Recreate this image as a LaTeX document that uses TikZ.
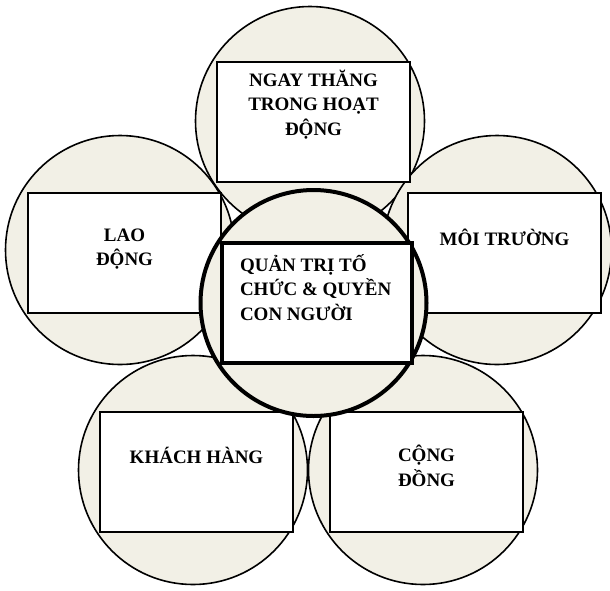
\documentclass[tikz,border=0pt]{standalone}
\usepackage{fontspec}
\setmainfont{Liberation Serif}
\usetikzlibrary{positioning}

\definecolor{petalfill}{HTML}{F2F0E6}
\newcommand{\cardtext}[2]{\parbox[t][120pt][t]{193pt}{\centering\rule{0pt}{#1}#2}}

\begin{document}
\begin{tikzpicture}[
    x=1pt, y=-1pt,
    petal/.style={circle, draw, line width=1.6pt, fill=petalfill, minimum size=229pt, inner sep=0pt},
    hub/.style={circle, draw, line width=4pt, fill=petalfill, minimum size=226pt, inner sep=0pt},
    card/.style={rectangle, draw, line width=2pt, fill=white, inner sep=0pt, font=\fontsize{19}{24.5}\selectfont\bfseries},
    hubcard/.style={card, line width=3.5pt}
]
    \useasboundingbox (0,0) rectangle (610,590);

    \node[petal] (pNgay) at (310,121) {};
    \node[petal] (pLao) at (120,250) {};
    \node[petal] (pMoi) at (497,250) {};
    \node[petal] (pKhach) at (193,470) {};
    \node[petal] (pCong) at (423,470) {};

    \node[card] (ngay) at (313.5,122) {\cardtext{24pt}{NGAY THĂNG\\TRONG HOẠT\\ĐỘNG}};
    \node[card] (lao) at (124.5,253) {\cardtext{48pt}{LAO\\ĐỘNG}};
    \node[card] (moi) at (504.5,252.5) {\cardtext{53pt}{MÔI TRƯỜNG}};
    \node[card] (khach) at (196.5,472) {\cardtext{51pt}{KHÁCH HÀNG}};
    \node[card] (cong) at (426.5,471.5) {\cardtext{50pt}{CỘNG\\ĐỒNG}};

    \node[hub] (pQuanTri) at (313.5,303) {};
    \node[hubcard] (quanTri) at (317,303) {\parbox[t][120pt][t]{190pt}{\raggedright\leftskip=18pt\rule{0pt}{28pt}QUẢN TRỊ TỐ\\CHỨC \& QUYỀN\\CON NGƯỜI}};
\end{tikzpicture}
\end{document}
